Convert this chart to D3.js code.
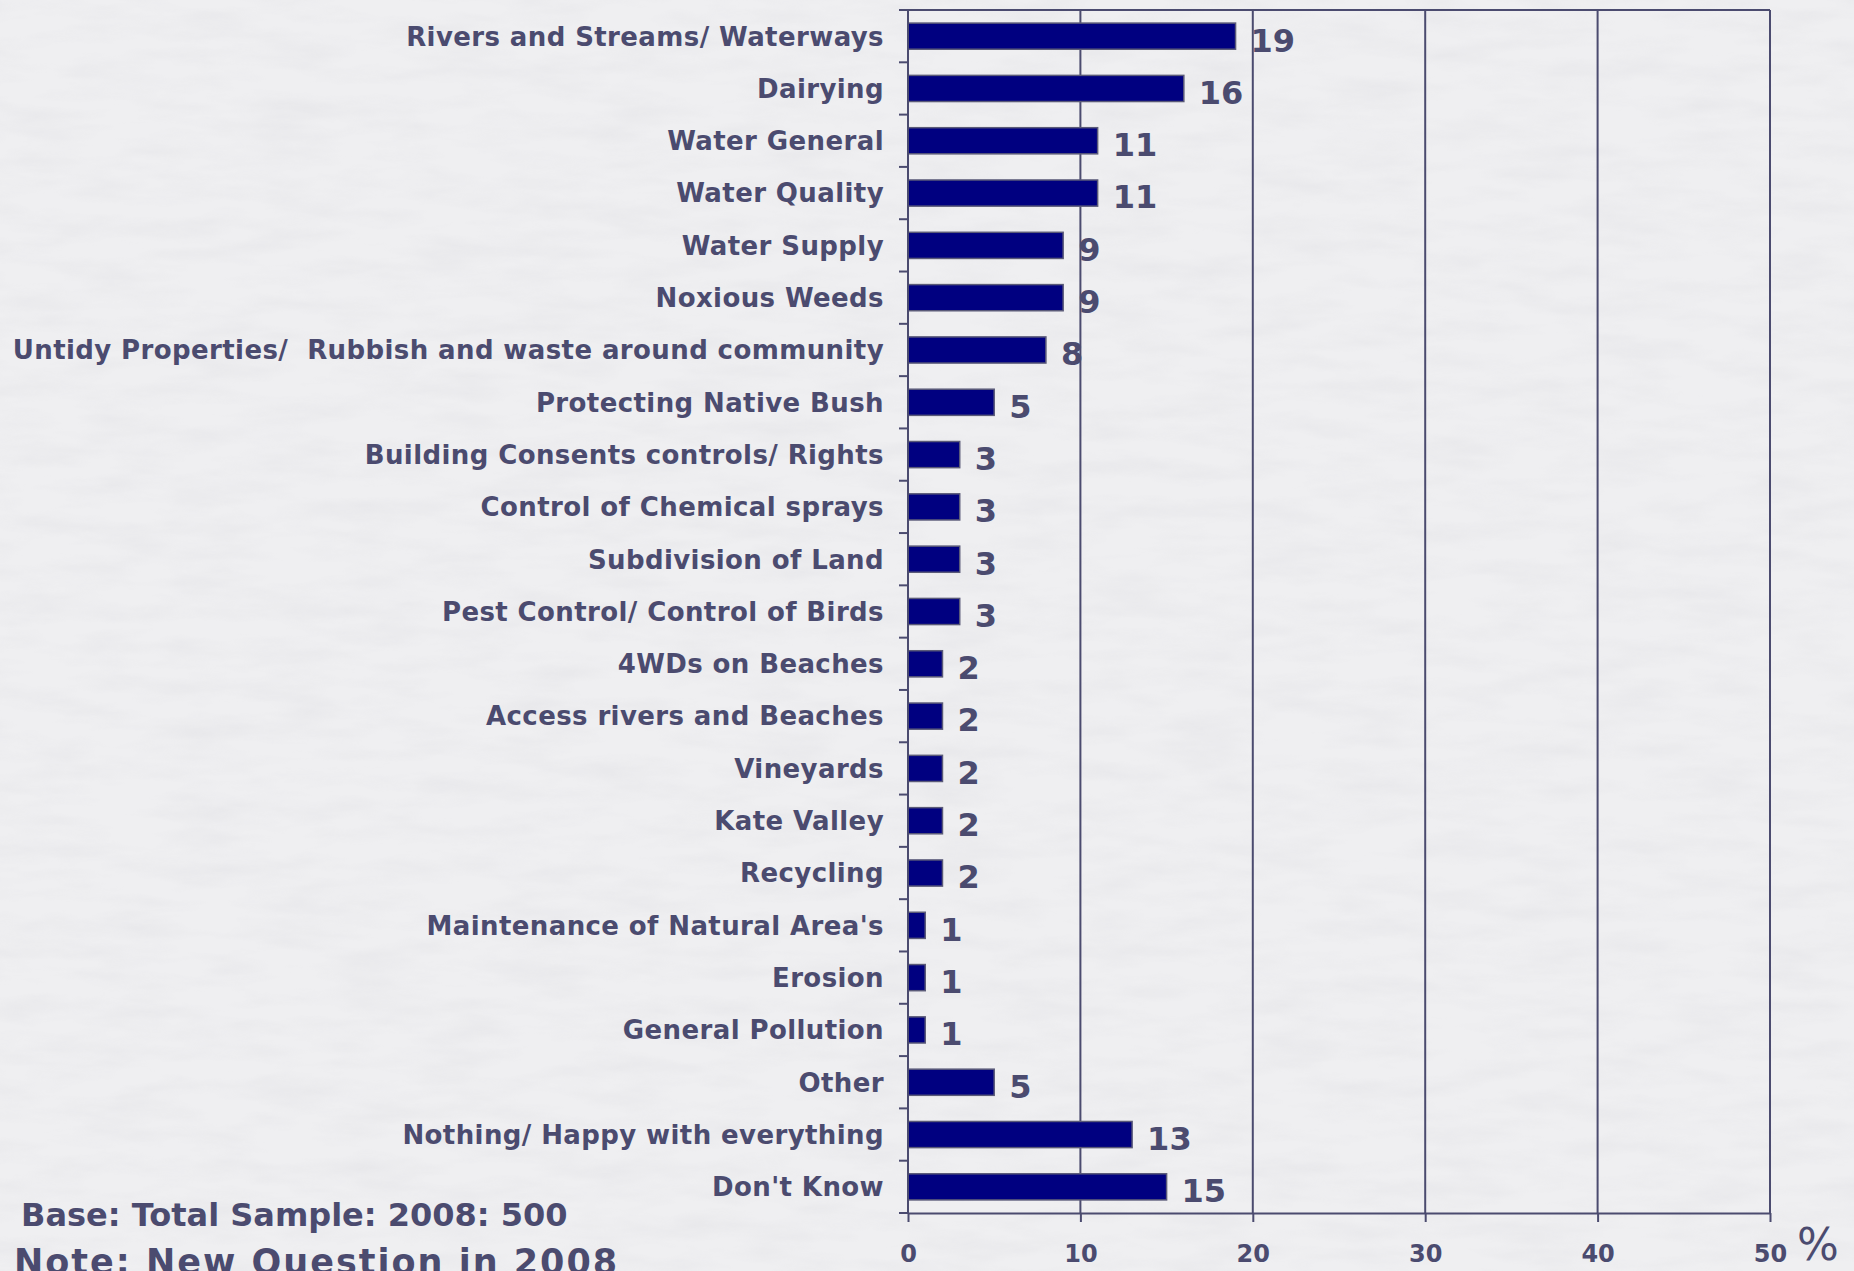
<!DOCTYPE html>
<html>
<head>
<meta charset="utf-8">
<script src="https://cdn.jsdelivr.net/npm/d3@7"></script>
<style>
  html, body { margin: 0; padding: 0; background: #eeeef0; }
  svg { display: block; }
  text { white-space: pre; }
</style>
</head>
<body>
<svg id="chart" width="1854" height="1271"></svg>
<script>
const categories = [
  "Rivers and Streams/ Waterways",
  "Dairying",
  "Water General",
  "Water Quality",
  "Water Supply",
  "Noxious Weeds",
  "Untidy Properties/  Rubbish and waste around community",
  "Protecting Native Bush",
  "Building Consents controls/ Rights",
  "Control of Chemical sprays",
  "Subdivision of Land",
  "Pest Control/ Control of Birds",
  "4WDs on Beaches",
  "Access rivers and Beaches",
  "Vineyards",
  "Kate Valley",
  "Recycling",
  "Maintenance of Natural Area's",
  "Erosion",
  "General Pollution",
  "Other",
  "Nothing/ Happy with everything",
  "Don't Know"
];
const values = [19, 16, 11, 11, 9, 9, 8, 5, 3, 3, 3, 3, 2, 2, 2, 2, 2, 1, 1, 1, 5, 13, 15];
const xTicks = [0, 10, 20, 30, 40, 50];
const baseNote = "Base: Total Sample: 2008: 500";
const questionNote = "Note: New Question in 2008";

(function () {
const ink = "#4b4b6f";
const font = "'DejaVu Sans', sans-serif";

const svg = d3.select("#chart");
const W = 1854, H = 1271;

// textured paper background
const defs = svg.append("defs");
const f = defs.append("filter").attr("id", "paper").attr("x", 0).attr("y", 0).attr("width", "100%").attr("height", "100%");
f.append("feTurbulence").attr("type", "fractalNoise").attr("baseFrequency", "0.012 0.05").attr("numOctaves", 4).attr("seed", 3).attr("result", "n");
f.append("feColorMatrix").attr("in", "n").attr("type", "matrix")
  .attr("values", "0 0 0 0 0.5  0 0 0 0 0.5  0 0 0 0 0.55  0 0 0 -0.9 0.55");
svg.append("rect").attr("width", W).attr("height", H).attr("fill", "#efeff1");
svg.append("rect").attr("width", W).attr("height", H).attr("filter", "url(#paper)").attr("opacity", 0.25);

const pLeft = 908, pRight = 1770, pTop = 10, pBottom = 1213;

const x = d3.scaleLinear().domain([0, 50]).range([pLeft, pRight]);
const y = d3.scaleBand().domain(categories).range([pTop, pBottom]).paddingInner(0).paddingOuter(0);
const barH = y.bandwidth() * 0.5;

// vertical gridlines + right border
svg.append("g").selectAll("line").data(xTicks.slice(1)).join("line")
  .attr("x1", d => x(d)).attr("x2", d => x(d))
  .attr("y1", pTop).attr("y2", pBottom)
  .attr("stroke", ink).attr("stroke-width", 2);
// top border
svg.append("line").attr("x1", pLeft).attr("x2", pRight).attr("y1", pTop).attr("y2", pTop)
  .attr("stroke", ink).attr("stroke-width", 2);

// bars
svg.append("g").selectAll("rect").data(values).join("rect")
  .attr("x", x(0))
  .attr("y", (d, i) => y(categories[i]) + (y.bandwidth() - barH) / 2)
  .attr("width", d => x(d) - x(0))
  .attr("height", barH)
  .attr("fill", "#000080")
  .attr("stroke", "#5a5a78")
  .attr("stroke-width", 1.5);

// value labels
svg.append("g").selectAll("text").data(values).join("text")
  .attr("x", d => x(d) + 15)
  .attr("y", (d, i) => y(categories[i]) + y.bandwidth() / 2)
  .attr("dy", "0.48em")
  .attr("fill", ink)
  .attr("font-family", font)
  .attr("font-weight", "bold")
  .attr("font-size", 32)
  .text(d => d);

// y axis
const yAxis = svg.append("g").attr("transform", `translate(${pLeft},0)`);
yAxis.append("line").attr("x1", 0).attr("x2", 0).attr("y1", pTop).attr("y2", pBottom)
  .attr("stroke", ink).attr("stroke-width", 2);
const boundaries = categories.map(c => y(c)).concat([pBottom]);
yAxis.selectAll("line.tk").data(boundaries).join("line").attr("class", "tk")
  .attr("x1", -9).attr("x2", 0).attr("y1", d => d).attr("y2", d => d)
  .attr("stroke", ink).attr("stroke-width", 2);
yAxis.selectAll("text").data(categories).join("text")
  .attr("x", -24)
  .attr("y", d => y(d) + y.bandwidth() / 2)
  .attr("dy", "0.36em")
  .attr("text-anchor", "end")
  .attr("fill", ink)
  .attr("font-family", font)
  .attr("font-weight", "bold")
  .attr("font-size", 26)
  .attr("letter-spacing", 0.4)
  .text(d => d);

// x axis
const xAxis = svg.append("g").attr("transform", `translate(0,${pBottom})`)
  .call(d3.axisBottom(x).tickValues(xTicks).tickSize(9).tickSizeOuter(0).tickPadding(23));
xAxis.select(".domain").attr("stroke", ink).attr("stroke-width", 2);
xAxis.selectAll(".tick line").attr("stroke", ink).attr("stroke-width", 2);
xAxis.selectAll(".tick text")
  .attr("fill", ink)
  .attr("font-family", font)
  .attr("font-weight", "bold")
  .attr("font-size", 24);

svg.append("text").attr("x", 1797).attr("y", 1260)
  .attr("fill", ink).attr("font-family", font).attr("font-size", 44)
  .text("%");

// notes
svg.append("text").attr("x", 21).attr("y", 1226)
  .attr("fill", ink).attr("font-family", font).attr("font-weight", "bold").attr("font-size", 32)
  .text(baseNote);
svg.append("text").attr("x", 14).attr("y", 1274)
  .attr("fill", ink).attr("font-family", font).attr("font-weight", "bold").attr("font-size", 35)
  .attr("letter-spacing", 2)
  .text(questionNote);
})();
</script>
</body>
</html>
